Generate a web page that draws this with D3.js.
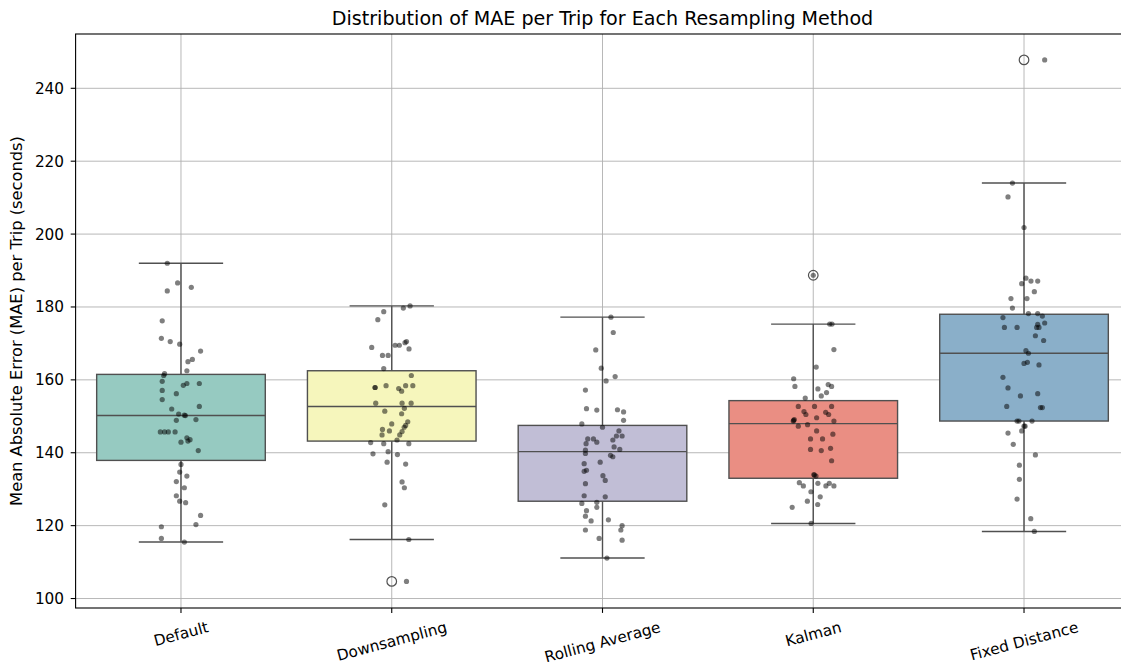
<!doctype html>
<html>
<head>
<meta charset="utf-8">
<title>MAE per Trip</title>
<style>
*{margin:0;padding:0;}
body{background:white;}
text{font-family:"DejaVu Sans",sans-serif;}
</style>
</head>
<body>
<script src="https://cdn.jsdelivr.net/npm/d3@7"></script>
<script>
// categories and palette (Set3, desaturated like seaborn)
var methods = ["Default", "Downsampling", "Rolling Average", "Kalman", "Fixed Distance"];
var colors = ["#96cac1", "#f6f6bc", "#c1bed6", "#ea8e83", "#8aafc9"];
var yTicks = [100, 120, 140, 160, 180, 200, 220, 240];

// box statistics
var q1 = [137.9, 143.2, 126.7, 133.0, 148.7];
var med = [150.2, 152.7, 140.3, 148.0, 167.3];
var q3 = [161.5, 162.5, 147.5, 154.3, 178.0];
var whiskLo = [115.5, 116.2, 111.1, 120.6, 118.4];
var whiskHi = [192.0, 180.3, 177.2, 175.3, 214.0];

// per-trip MAE values, [value, jitter in category units]
var maeDefault = [[192.0,-0.065],[186.6,-0.016],[185.4,0.049],[184.4,-0.065],[176.2,-0.089],[171.4,-0.093],[170.5,-0.051],[169.8,-0.006],[167.9,0.093],[165.6,0.054],[165.0,0.033],[162.5,0.028],[161.7,-0.078],[161.2,-0.082],[159.6,-0.089],[159.0,0.087],[159.0,0.028],[158.5,0.011],[157.1,-0.089],[156.2,-0.022],[154.6,-0.089],[152.7,0.087],[152.0,-0.044],[150.6,-0.011],[150.3,0.016],[150.2,0.021],[149.1,0.071],[148.9,-0.022],[145.7,-0.098],[145.7,-0.078],[145.7,-0.060],[145.7,-0.028],[144.1,0.028],[143.6,0.043],[143.2,0.033],[142.9,0],[140.6,0.082],[136.8,0],[134.7,-0.006],[133.6,0.028],[132.1,-0.022],[130.4,0.016],[128.2,-0.022],[126.7,-0.006],[126.3,0.022],[122.8,0.093],[120.3,0.071],[119.7,-0.093],[116.5,-0.093],[115.5,0.016]];
var maeDown = [[180.3,0.087],[179.7,0.055],[178.7,-0.038],[176.5,-0.066],[170.5,0.070],[170.2,0.063],[169.5,0.016],[169.5,0.036],[168.9,-0.095],[168.5,0.082],[166.7,-0.044],[166.7,-0.017],[163.1,-0.038],[161.2,0.093],[158.4,-0.027],[158.4,0.066],[158.4,0.100],[157.9,-0.079],[157.9,-0.079],[157.6,0.033],[156.9,0.047],[153.6,-0.076],[153.6,0.049],[153.6,0.092],[152.2,0.060],[151.4,-0.033],[150.7,0.047],[148.5,0.076],[147.9,0],[147.5,0.066],[147.0,0.059],[146.4,-0.044],[146.0,-0.011],[145.8,0.049],[144.9,-0.046],[144.9,0.038],[143.5,0.025],[142.8,-0.100],[142.5,-0.038],[142.5,0.081],[140.3,-0.017],[139.7,-0.089],[139.5,0.027],[137.4,-0.022],[136.9,0.066],[132.0,0.049],[130.4,0.060],[125.7,-0.033],[116.2,0.081],[104.7,0.070]];
var maeRolling = [[177.2,0.040],[173.0,0.051],[168.2,-0.032],[163.2,-0.006],[160.9,0.060],[159.7,0.017],[157.2,-0.081],[152.1,-0.076],[151.7,-0.027],[151.8,0.071],[151.2,0.100],[148.9,0.100],[147.9,-0.098],[147.0,0],[146.0,0.078],[144.6,0.066],[144.6,0.093],[143.8,-0.070],[143.8,-0.043],[143.5,0.049],[142.9,-0.027],[142.5,-0.078],[141.6,0.055],[140.9,0.082],[140.7,-0.081],[139.8,-0.081],[139.3,0.038],[138.9,0.049],[137.4,-0.011],[137.0,-0.087],[135.2,-0.076],[134.9,-0.087],[133.7,0.002],[132.4,0.013],[131.5,-0.081],[128.2,-0.087],[127.9,0.013],[126.4,-0.027],[126.1,-0.098],[125.0,-0.027],[124.1,-0.076],[122.6,-0.081],[121.6,0.028],[121.3,-0.054],[120.0,0.093],[118.8,-0.081],[118.8,0.087],[116.5,-0.016],[116.0,0.093],[111.1,0.021]];
var maeKalman = [[188.7,0],[175.3,0.078],[175.3,0.089],[168.3,0.098],[163.5,0.014],[160.3,-0.093],[158.7,0.071],[158.2,-0.087],[158.2,0.087],[157.5,0.022],[156.5,0.063],[155.6,0.038],[155.0,-0.038],[152.7,-0.071],[152.7,0.006],[152.7,0.087],[151.3,-0.044],[151.1,0.059],[150.5,-0.035],[150.5,0.073],[149.6,0.016],[149.1,-0.090],[148.9,-0.093],[148.7,-0.095],[148.7,0.098],[147.7,-0.027],[147.3,-0.071],[146.0,0.016],[145.1,0.093],[143.8,-0.013],[143.8,0.044],[141.2,0.082],[140.9,-0.013],[140.6,0.038],[137.8,0.087],[134.0,0.003],[133.9,0.005],[133.6,0.013],[131.8,-0.066],[131.6,0.022],[131.6,0.076],[130.9,-0.047],[130.9,0.060],[130.9,0.098],[129.3,-0.011],[127.9,0.033],[126.7,-0.028],[125.8,0.021],[125.0,-0.100],[120.6,-0.010]];
var maeFixed = [[247.8,0.098],[214.0,-0.055],[210.2,-0.076],[201.8,0],[187.9,0.009],[187.1,0.033],[187.1,0.065],[186.4,-0.011],[184.2,0.049],[182.3,-0.062],[182.3,0.014],[179.7,-0.055],[178.2,0.021],[178.2,0.065],[177.5,0.087],[177.1,-0.100],[175.6,0.098],[175.2,0.065],[174.4,-0.093],[174.4,-0.033],[174.4,0.060],[174.4,0.071],[172.1,0.054],[170.8,0.093],[168.0,0.009],[167.3,0.021],[164.8,0.016],[164.5,0],[164.1,0.071],[160.7,-0.100],[157.8,-0.076],[156.2,0.065],[155.6,-0.017],[152.7,-0.082],[152.4,0.078],[152.4,0.087],[148.7,-0.033],[148.7,-0.024],[148.7,0.038],[147.3,0],[147.3,0.005],[146.0,-0.011],[145.4,-0.076],[142.3,-0.051],[139.4,0.054],[136.6,-0.022],[132.7,-0.022],[127.3,-0.033],[121.9,0.032],[118.4,0.049]];
var trips = [maeDefault, maeDown, maeRolling, maeKalman, maeFixed];

var W = 1121, H = 667;
var pL = 75.6, pR = 1129.4, pT = 34, pB = 608;
var lineCol = "#505050";
var tickFs = 15.3;

var svg = d3.select("body").append("svg").attr("width", W).attr("height", H);

var x = d3.scaleLinear().domain([-0.5, 4.5]).range([pL, pR]);
var y = d3.scaleLinear().domain([97.4, 254.9]).range([pB, pT]);

// grid
var grid = svg.append("g").attr("stroke", "#b0b0b0").attr("stroke-width", 0.9);
grid.selectAll("line.gy").data(yTicks).enter().append("line")
  .attr("x1", pL).attr("x2", pR)
  .attr("y1", d => y(d)).attr("y2", d => y(d));
grid.selectAll("line.gx").data(methods).enter().append("line")
  .attr("x1", (d, i) => x(i)).attr("x2", (d, i) => x(i))
  .attr("y1", pT).attr("y2", pB);

// boxes
var bw = 0.8;
var boxes = svg.selectAll("g.box").data(methods).enter().append("g").attr("class", "box");
boxes.append("line") // lower whisker
  .attr("x1", (d, i) => x(i)).attr("x2", (d, i) => x(i))
  .attr("y1", (d, i) => y(q1[i])).attr("y2", (d, i) => y(whiskLo[i]));
boxes.append("line") // upper whisker
  .attr("x1", (d, i) => x(i)).attr("x2", (d, i) => x(i))
  .attr("y1", (d, i) => y(q3[i])).attr("y2", (d, i) => y(whiskHi[i]));
boxes.append("line")
  .attr("x1", (d, i) => x(i - bw / 4)).attr("x2", (d, i) => x(i + bw / 4))
  .attr("y1", (d, i) => y(whiskLo[i])).attr("y2", (d, i) => y(whiskLo[i]));
boxes.append("line")
  .attr("x1", (d, i) => x(i - bw / 4)).attr("x2", (d, i) => x(i + bw / 4))
  .attr("y1", (d, i) => y(whiskHi[i])).attr("y2", (d, i) => y(whiskHi[i]));
boxes.append("rect")
  .attr("x", (d, i) => x(i - bw / 2))
  .attr("width", (d, i) => x(i + bw / 2) - x(i - bw / 2))
  .attr("y", (d, i) => y(q3[i]))
  .attr("height", (d, i) => y(q1[i]) - y(q3[i]))
  .attr("fill", (d, i) => colors[i]);
boxes.append("line")
  .attr("x1", (d, i) => x(i - bw / 2)).attr("x2", (d, i) => x(i + bw / 2))
  .attr("y1", (d, i) => y(med[i])).attr("y2", (d, i) => y(med[i]));
boxes.selectAll("line, rect").attr("stroke", lineCol).attr("stroke-width", 1.4);

// outliers (points beyond whiskers)
boxes.each(function(d, i) {
  var out = trips[i].filter(p => p[0] > whiskHi[i] || p[0] < whiskLo[i]);
  d3.select(this).selectAll("circle").data(out).enter().append("circle")
    .attr("cx", x(i)).attr("cy", p => y(p[0])).attr("r", 4.8)
    .attr("fill", "none").attr("stroke", lineCol).attr("stroke-width", 1.2);
});

// strip points
trips.forEach(function(pts, i) {
  svg.append("g").selectAll("circle").data(pts).enter().append("circle")
    .attr("cx", p => x(i + p[1])).attr("cy", p => y(p[0]))
    .attr("r", 2.6).attr("fill", "black").attr("fill-opacity", 0.5);
});

// spines
svg.append("rect").attr("x", pL).attr("y", pT)
  .attr("width", pR - pL).attr("height", pB - pT)
  .attr("fill", "none").attr("stroke", "black").attr("stroke-width", 1.1);

// y axis ticks
var ya = svg.append("g");
ya.selectAll("line").data(yTicks).enter().append("line")
  .attr("x1", pL - 4.9).attr("x2", pL).attr("y1", d => y(d)).attr("y2", d => y(d))
  .attr("stroke", "black").attr("stroke-width", 1.1);
ya.selectAll("text").data(yTicks).enter().append("text")
  .attr("x", pL - 11.5).attr("y", d => y(d)).attr("dy", "0.36em")
  .attr("text-anchor", "end").attr("font-size", tickFs + "px").attr("fill", "black")
  .text(d => d);

// x axis ticks
var xa = svg.append("g");
xa.selectAll("line").data(methods).enter().append("line")
  .attr("x1", (d, i) => x(i)).attr("x2", (d, i) => x(i))
  .attr("y1", pB).attr("y2", pB + 4.9)
  .attr("stroke", "black").attr("stroke-width", 1.1);
var ang = 15 * Math.PI / 180;
xa.selectAll("text").data(methods).enter().append("text")
  .attr("text-anchor", "middle").attr("dy", "0.36em")
  .attr("font-size", tickFs + "px").attr("fill", "black")
  .text(d => d)
  .each(function(d, i) {
    var w = this.getComputedTextLength();
    var h = tickFs * 1.164;
    var bh = w * Math.sin(ang) + h * Math.cos(ang);
    var cy = pB + 9.8 + bh / 2;
    d3.select(this).attr("x", x(i)).attr("y", cy)
      .attr("transform", "rotate(-15," + x(i) + "," + cy + ")");
  });

// labels
svg.append("text")
  .attr("transform", "translate(16.5," + (pT + pB) / 2 + ") rotate(-90)")
  .attr("text-anchor", "middle").attr("dy", "0.36em")
  .attr("font-size", "16.3px").attr("fill", "black")
  .text("Mean Absolute Error (MAE) per Trip (seconds)");
svg.append("text")
  .attr("x", (pL + pR) / 2).attr("y", 25)
  .attr("text-anchor", "middle").attr("font-size", "19.1px").attr("fill", "black")
  .text("Distribution of MAE per Trip for Each Resampling Method");
</script>
</body>
</html>
